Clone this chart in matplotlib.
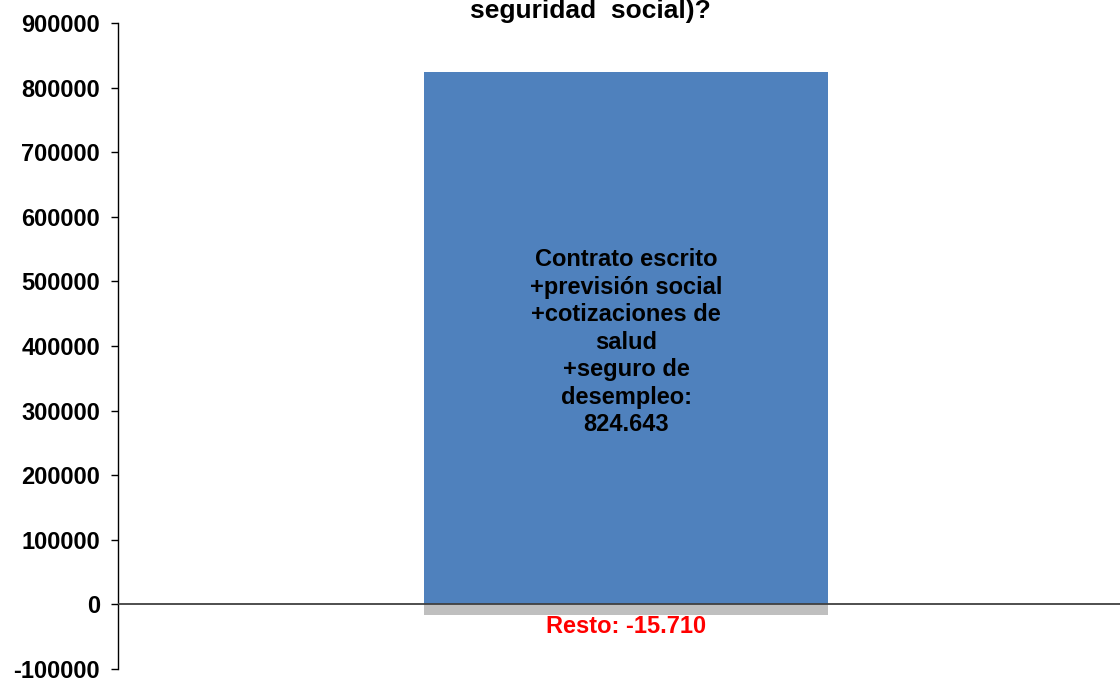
import matplotlib
matplotlib.use("Agg")
import matplotlib.pyplot as plt

# Data
categories = ["Total"]
main_values = [824643]
resto_values = [-15710]
main_label = "Contrato escrito\n+previsión social\n+cotizaciones de\nsalud\n+seguro de\ndesempleo:\n824.643"
resto_label = "Resto: -15.710"
yticks = list(range(-100000, 900001, 100000))
title_text = "seguridad  social)?"

plt.rcParams['font.family'] = ['Liberation Sans', 'DejaVu Sans']

fig = plt.figure(figsize=(11.2, 6.81), dpi=100)
ax = fig.add_axes([0.1054, 0.0176, 0.8946, 0.9486])

x = list(range(len(categories)))
ax.bar(x, resto_values, width=0.403, color="#BFBFBF", zorder=2)
ax.bar(x, main_values, width=0.403, color="#4F81BD", zorder=2)
ax.axhline(0, color="#404040", linewidth=1.3, zorder=3)

ax.set_xlim(-0.507, 0.493)
ax.set_ylim(-100000, 900000)
ax.set_yticks(yticks)
ax.set_yticklabels([str(v) for v in yticks], fontsize=17, fontweight="bold")
ax.tick_params(axis="y", direction="out", length=5, width=1, pad=8)
ax.set_xticks([])
for s in ["top", "right", "bottom"]:
    ax.spines[s].set_visible(False)
ax.spines["left"].set_linewidth(1)

ax.annotate(main_label, xy=(x[0], main_values[0] / 2), xytext=(0, -3),
            textcoords="offset points", ha="center", va="center",
            fontsize=17, fontweight="bold", color="black", linespacing=1.25, zorder=4)
ax.annotate(resto_label, xy=(x[0], 0), xytext=(0, -16),
            textcoords="offset points", ha="center", va="center",
            fontsize=17, fontweight="bold", color="red", zorder=4)

fig.text(0.527, 1 - 18 / 681, title_text, ha="center", va="baseline",
         fontsize=19, fontweight="bold")

fig.savefig("out.png", dpi=100)
